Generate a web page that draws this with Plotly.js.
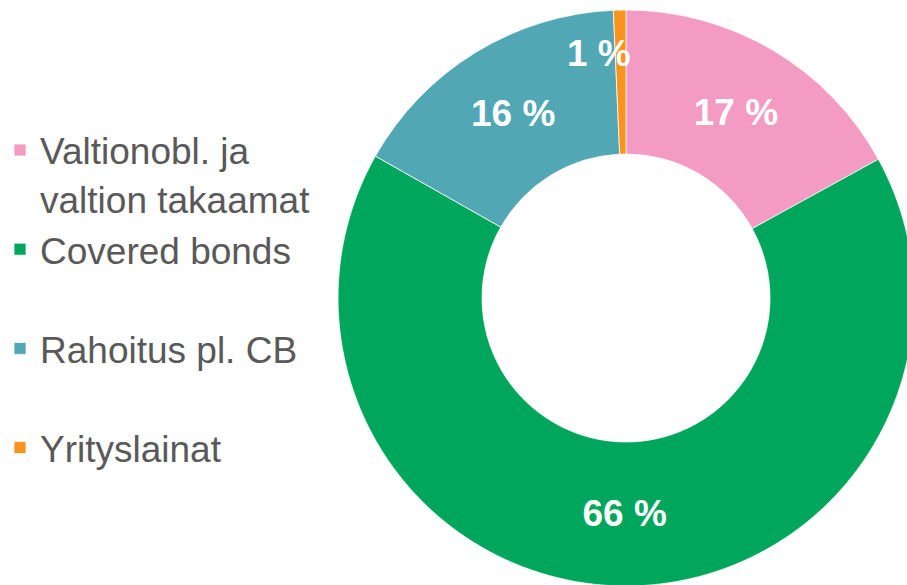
<!DOCTYPE html>
<html>
<head>
<meta charset="utf-8">
<script src="https://cdn.plot.ly/plotly-3.0.1.min.js"></script>
<style>
html,body{margin:0;padding:0;overflow:hidden;background:#fff;width:907px;height:585px;}
#chart{width:920px;height:600px;}
</style>
</head>
<body>
<div id="chart"></div>
<script>
const categories = ["Valtionobl. ja<br>valtion takaamat", "Covered bonds<br> ", "Rahoitus pl. CB<br> ", "Yrityslainat"];
const shares = [17.0, 66.2, 16.1, 0.7];
const colors = ["#f39bc2", "#00a65c", "#51a7b3", "#f7931e"];

const labelTexts = shares.map(v => Math.round(v) + " %");
const smallIdx = shares.findIndex(v => v < 3);

const trace = {
  type: "pie",
  labels: categories,
  values: shares,
  text: labelTexts,
  textinfo: "text",
  texttemplate: "%{text}",
  textposition: shares.map((v, i) => i === smallIdx ? "none" : "inside"),
  insidetextorientation: "horizontal",
  insidetextfont: {family: "Liberation Sans, Arial, sans-serif", size: 37, color: "#ffffff", weight: "bold"},
  marker: {colors: colors, line: {color: "#ffffff", width: 0.75}},
  hole: 0.5,
  sort: false,
  direction: "clockwise",
  rotation: 0,
  domain: {x: [0.3674, 0.9935], y: [0, 1]},
  hoverinfo: "label+percent"
};

const annotations = smallIdx >= 0 ? [{
  text: "<b>" + labelTexts[smallIdx] + "</b>",
  xref: "paper", yref: "paper",
  x: 599 / 920, y: 1 - (31 - 10) / 576,
  showarrow: false,
  font: {family: "Liberation Sans, Arial, sans-serif", size: 37, color: "#ffffff"}
}] : [];

const layout = {
  width: 920, height: 600,
  margin: {l: 0, r: 0, t: 10, b: 14},
  paper_bgcolor: "#ffffff",
  showlegend: true,
  legend: {
    x: 0, xanchor: "left", y: 0.81, yanchor: "top",
    font: {family: "Liberation Sans, Arial, sans-serif", size: 37, color: "#595959"},
    valign: "top",
    bgcolor: "rgba(0,0,0,0)"
  },
  annotations: annotations
};

Plotly.newPlot("chart", [trace], layout, {displayModeBar: false, staticPlot: true});
</script>
</body>
</html>
